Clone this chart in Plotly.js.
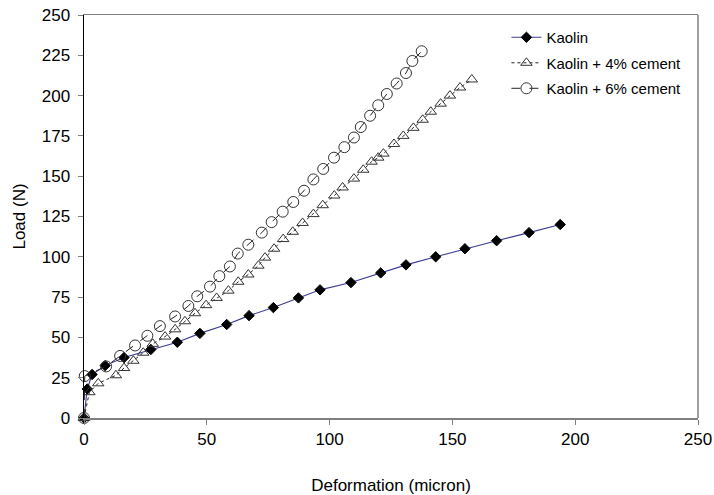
<!DOCTYPE html>
<html>
<head>
<meta charset="utf-8">
<script src="https://cdn.plot.ly/plotly-3.0.1.min.js"></script>
<style>html,body{margin:0;padding:0;background:#fff;}#chart{width:714px;height:495px;}</style>
</head>
<body>
<div id="chart"></div>
<script>
// Kaolin
const kaolinX = [0, 1.3, 3.3, 8.6, 16.3, 27.2, 38.0, 47.2, 58.1, 67.2, 77.1, 87.3, 96.1, 108.7, 120.8, 131.1, 143.2, 155.1, 168.0, 181.2, 193.9];
const kaolinY = [0, 18, 27, 32.5, 37.5, 42.5, 47, 52.5, 58, 63.5, 68.5, 74.5, 79.5, 84, 90, 95, 100, 105, 110, 115, 120];
// Kaolin + 4% cement
const cem4X = [0, 2.2, 5.8, 13.0, 16.3, 20.1, 24.1, 28.0, 33.0, 37.1, 41.1, 45.2, 49.7, 54.0, 58.8, 62.8, 66.9, 71.0, 73.7, 77.4, 81.1, 85.0, 89.0, 93.4, 97.2, 101.9, 105.3, 109.9, 113.7, 117.1, 119.8, 121.9, 126.2, 130.0, 134.1, 137.9, 141.2, 145.2, 149.0, 153.1, 157.9];
const cem4Y = [0, 16, 21.5, 26.5, 31, 35.5, 40.5, 46, 50.5, 55, 60, 65, 70, 74.5, 79, 84.5, 89, 94.5, 99.5, 105, 111, 115.5, 121, 126.5, 132, 138, 143, 148.5, 154, 159, 161.5, 164, 170, 175, 180, 185, 190, 195, 200, 205, 210];
// Kaolin + 6% cement
const cem6X = [0, 0.3, 9.0, 14.7, 20.8, 25.8, 30.9, 37.1, 42.5, 46.1, 51.3, 55.1, 59.4, 62.6, 66.9, 72.4, 76.4, 80.9, 85.2, 89.6, 93.4, 97.4, 101.8, 106.0, 109.9, 112.7, 116.5, 119.8, 123.3, 127.3, 131.1, 133.7, 137.5];
const cem6Y = [0, 26, 32, 38.5, 45, 51, 57, 63, 69.5, 75.5, 81.5, 88, 94, 102, 107.5, 115, 121.5, 128, 134, 141, 148, 154.5, 161.5, 168, 174, 180.5, 187.5, 194, 201, 207.5, 214, 221.5, 227.5];
const seriesNames = ["Kaolin", "Kaolin + 4% cement", "Kaolin + 6% cement"];
const xTicks = [0, 50, 100, 150, 200, 250];
const yTicks = [0, 25, 50, 75, 100, 125, 150, 175, 200, 225, 250];

const FONT = "Liberation Sans, Arial, sans-serif";

const traces = [
  {x: kaolinX, y: kaolinY, name: seriesNames[0], legendgroup: "a", mode: "lines+markers", cliponaxis: false,
   line: {color: "#3c3c96", width: 1.1},
   marker: {symbol: "diamond", size: 8, color: "#000", line: {color: "#000", width: 1}}},
  {x: cem4X, y: cem4Y, name: seriesNames[1], legendgroup: "b", mode: "lines+markers", cliponaxis: false,
   line: {color: "#222", width: 1, dash: "dot"},
   marker: {symbol: "triangle-up-open", size: 10, color: "#333", line: {color: "#333", width: 1}}},
  {x: cem6X, y: cem6Y, name: seriesNames[2], legendgroup: "c", mode: "lines+markers", cliponaxis: false,
   line: {color: "#222", width: 1, dash: "dash"},
   marker: {symbol: "circle-open", size: 11, color: "#333", line: {color: "#333", width: 1}}}
];

const layout = {
  width: 714, height: 495,
  margin: {l: 84, r: 16, t: 15, b: 77},
  paper_bgcolor: "#fff", plot_bgcolor: "#fff",
  font: {family: FONT, size: 17, color: "#000"},
  showlegend: true,
  legend: {x: 0.688, xanchor: "left", y: 0.985, yanchor: "top", bgcolor: "rgba(0,0,0,0)",
           font: {family: FONT, size: 15, color: "#000"}, traceorder: "grouped", tracegroupgap: 3},
  xaxis: {range: [0, 250], tickvals: xTicks, ticktext: xTicks.map(String), showgrid: false, zeroline: false,
          showline: true, linecolor: "#808080", linewidth: 1.5, mirror: true,
          ticks: "outside", ticklen: 5, tickcolor: "#808080",
          tickfont: {family: FONT, size: 17, color: "#000"},
          title: {text: "Deformation (micron)", font: {family: FONT, size: 17, color: "#000"}, standoff: 33}},
  yaxis: {range: [0, 250], tickvals: yTicks, ticktext: yTicks.map(String), showgrid: false, zeroline: false,
          showline: true, linecolor: "#000", linewidth: 1.5,
          ticks: "outside", ticklen: 5, tickcolor: "#808080",
          tickfont: {family: FONT, size: 17, color: "#000"}, ticklabelstandoff: 4,
          title: {text: "Load (N)", font: {family: FONT, size: 17, color: "#000"}, standoff: 12}},
  shapes: [{type: "line", xref: "paper", yref: "paper", x0: 1, x1: 1, y0: 0, y1: 1,
            line: {color: "#808080", width: 1.5}}]
};

Plotly.newPlot("chart", traces, layout, {displayModeBar: false, staticPlot: true});
</script>
</body>
</html>
